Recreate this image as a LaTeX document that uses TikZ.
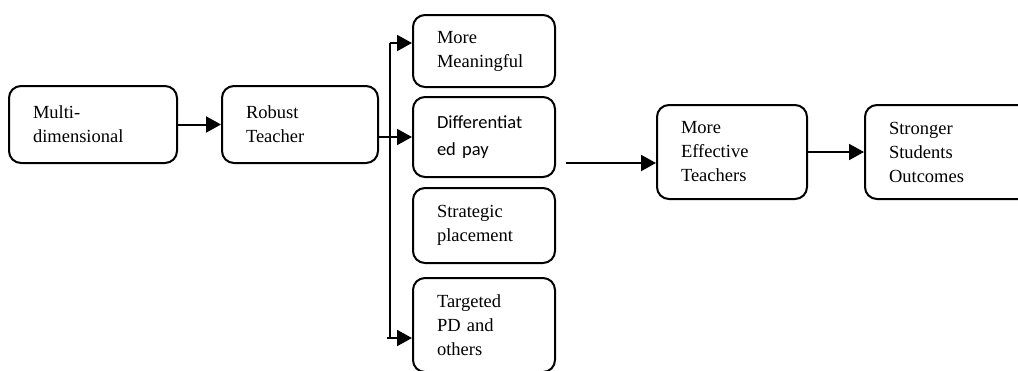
\documentclass[tikz,border=0pt]{standalone}
\usepackage{fontspec}
\setmainfont{Liberation Serif}
\newfontfamily\calibri{Carlito}
\usetikzlibrary{arrows.meta}

\begin{document}
\begin{tikzpicture}[x=1pt,y=-1pt,
    roundBox/.style={draw,line width=2pt,rounded corners=12pt,inner xsep=24pt,inner ysep=0pt,
      align=left,font=\fontsize{18.5}{24}\selectfont},
    flowArrow/.style={line width=2pt,-{Triangle[length=15pt,width=16pt]}}]
        \useasboundingbox (0,0) rectangle (1018,370);
        % left part
        \node[roundBox,text width=120pt,minimum height=77pt] (multi) at (93,124.5) {Multi-\\dimensional};
        \node[roundBox,text width=108pt,minimum height=77pt] (robust) at (300,124.5) {Robust\\Teacher};
        % middle column
        \node[roundBox,text width=94pt,minimum height=72pt] (meaningful) at (484,51) {More\\Meaningful};
        \node[roundBox,text width=94pt,minimum height=80pt,font=\calibri\fontsize{18.5}{27}\selectfont] (diffpay) at (484,137) {Differentiat\\ed pay};
        \node[roundBox,text width=94pt,minimum height=75pt] (placement) at (484,225.5) {Strategic\\placement};
        \node[roundBox,text width=94pt,minimum height=94pt] (targeted) at (484,325) {Targeted\\PD and\\others};
        % right part
        \node[roundBox,text width=102pt,minimum height=94pt] (effective) at (732,152) {More\\Effective\\Teachers};
        \node[roundBox,text width=117pt,minimum height=94pt] (outcomes) at (947.5,152) {Stronger\\Students\\Outcomes};
        \coordinate (forkTop) at (390,43);
        \coordinate (forkBot) at (390,338);
        \coordinate (gap) at (566,163);
        \draw[flowArrow] (multi) -- (robust);
        \draw[flowArrow] (robust.east |- diffpay.west) -- (diffpay.west);
        \draw[line width=2pt] (forkTop) -- (forkBot);
        \draw[flowArrow] (forkTop) -- (forkTop -| meaningful.west);
        \draw[flowArrow] ([xshift=-3pt]forkBot) -- (forkBot -| targeted.west);
        \draw[flowArrow] (gap) -- (gap -| effective.west);
        \draw[flowArrow] (effective) -- (outcomes);
      \end{tikzpicture}
\end{document}
